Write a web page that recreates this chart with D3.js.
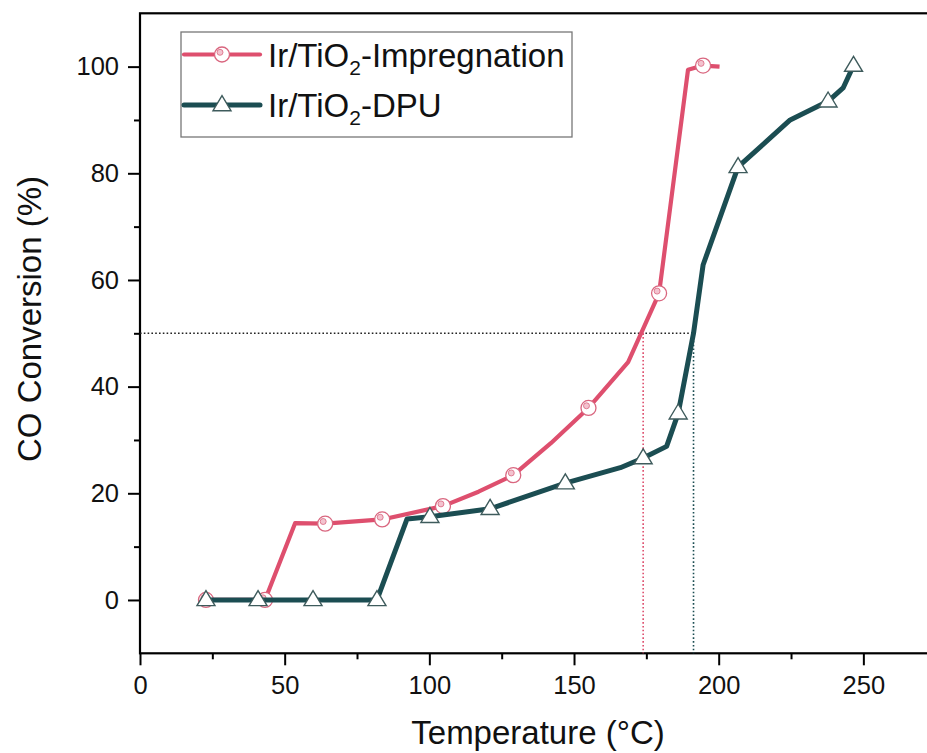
<!DOCTYPE html>
<html>
<head>
<meta charset="utf-8">
<script src="https://cdn.jsdelivr.net/npm/d3@7"></script>
<style>
  html, body { margin: 0; padding: 0; background: #fff; }
  svg { display: block; font-family: Arial, "Liberation Sans", sans-serif; }
</style>
</head>
<body>
<svg id="chart" width="927" height="753"></svg>
<script>
// Ir/TiO2 light-off curves: CO conversion vs temperature
const impTemp = [22.8, 43.2, 53.6, 64.0, 83.7, 104.7, 117.0, 129.0, 142.0, 155.0, 168.7, 179.4, 189.4, 194.6, 200.3];
const impConv = [0, 0, 14.4, 14.3, 15.1, 17.6, 20.3, 23.4, 29.4, 36.0, 44.6, 57.5, 99.4, 100.2, 100];
const impMarker = [1, 1, 0, 1, 1, 1, 0, 1, 0, 1, 0, 1, 0, 1, 0];

const dpuTemp = [22.8, 40.8, 59.8, 81.9, 92.3, 100.2, 121.0, 147.0, 166.0, 173.9, 182.0, 186.0, 191.3, 194.6, 206.7, 224.7, 237.8, 243.0, 246.6];
const dpuConv = [0, 0, 0, 0, 15.2, 15.6, 17.1, 21.9, 24.8, 26.6, 28.8, 35.0, 50.0, 62.8, 81.2, 90.0, 93.5, 96.0, 100.2];
const dpuMarker = [1, 1, 1, 1, 0, 1, 1, 1, 0, 1, 0, 1, 0, 0, 1, 0, 1, 0, 1];

// temperatures at 50 % conversion (T50) for each catalyst
const halfConv = 50;
const t50 = [173.9, 191.3];

const seriesNames = ["Impregnation", "DPU"];
const xMajorTicks = [0, 50, 100, 150, 200, 250];
const xMinorTicks = [25, 75, 125, 175, 225, 275];
const yMajorTicks = [0, 20, 40, 60, 80, 100];
const yMinorTicks = [10, 30, 50, 70, 90];

const pink = "#de4f6e";
const teal = "#1b4d52";

const svg = d3.select("#chart");
const x = d3.scaleLinear().domain([0, 275]).range([140, 935.7]);
const y = d3.scaleLinear().domain([-10, 110]).range([653.3, 13.3]);

// axes
const gx = svg.append("g").attr("transform", `translate(0,${y(-10)})`)
  .call(d3.axisBottom(x).tickValues(xMajorTicks).tickSize(12).tickSizeOuter(0).tickPadding(11));
const gxm = svg.append("g").attr("transform", `translate(0,${y(-10)})`)
  .call(d3.axisBottom(x).tickValues(xMinorTicks).tickSize(6).tickSizeOuter(0).tickFormat(""));
const gy = svg.append("g").attr("transform", `translate(${x(0)},0)`)
  .call(d3.axisLeft(y).tickValues(yMajorTicks).tickSize(12).tickSizeOuter(0).tickPadding(9));
const gym = svg.append("g").attr("transform", `translate(${x(0)},0)`)
  .call(d3.axisLeft(y).tickValues(yMinorTicks).tickSize(6).tickSizeOuter(0).tickFormat(""));
[gx, gxm, gy, gym].forEach(g => {
  g.select(".domain").remove();
  g.selectAll(".tick line").attr("stroke", "#000").attr("stroke-width", 2);
  g.selectAll(".tick text").attr("fill", "#111").style("font-size", "25.5px")
    .style("font-family", "Arial, 'Liberation Sans', sans-serif");
});

// frame
svg.append("rect")
  .attr("x", x(0)).attr("y", y(110))
  .attr("width", x(275) - x(0)).attr("height", y(-10) - y(110))
  .attr("fill", "none").attr("stroke", "#000").attr("stroke-width", 2.2);

// axis titles
svg.append("text").attr("x", 538).attr("y", 744).attr("text-anchor", "middle")
  .style("font-size", "33px").attr("fill", "#111").text("Temperature (°C)");
svg.append("text").attr("transform", "translate(41,319) rotate(-90)").attr("text-anchor", "middle")
  .style("font-size", "33px").attr("fill", "#111").text("CO Conversion (%)");

// T50 guide lines
svg.append("line")
  .attr("x1", x(0)).attr("x2", x(t50[1])).attr("y1", y(halfConv)).attr("y2", y(halfConv))
  .attr("stroke", "#222").attr("stroke-width", 1.6).attr("stroke-dasharray", "1.6 2.2");
[pink, teal].forEach((c, i) => {
  svg.append("line")
    .attr("x1", x(t50[i])).attr("x2", x(t50[i])).attr("y1", y(halfConv)).attr("y2", y(-10))
    .attr("stroke", c).attr("stroke-width", 1.6).attr("stroke-dasharray", "1.6 2.2");
});

const line = d3.line().x(d => x(d[0])).y(d => y(d[1]));

function circleMarker(g, cx, cy) {
  g.append("circle").attr("cx", cx).attr("cy", cy).attr("r", 7.5)
    .attr("fill", "#fff").attr("stroke", "#d9667f").attr("stroke-width", 1.3);
  g.append("circle").attr("cx", cx - 2).attr("cy", cy - 2.2).attr("r", 3)
    .attr("fill", "#f3c3cf").attr("stroke", "#d9667f").attr("stroke-width", 0.8);
}
function triangleMarker(g, cx, cy) {
  const h = 15, w = 18;
  g.append("path")
    .attr("d", `M${cx},${cy - h * 0.62}L${cx + w / 2},${cy + h * 0.38}L${cx - w / 2},${cy + h * 0.38}Z`)
    .attr("fill", "#fff").attr("stroke", "#3e5b5c").attr("stroke-width", 1.4).attr("stroke-linejoin", "miter");
}

// Impregnation series
const impData = impTemp.map((t, i) => [t, impConv[i]]);
svg.append("path").datum(impData).attr("d", line)
  .attr("fill", "none").attr("stroke", pink).attr("stroke-width", 4.2).attr("stroke-linejoin", "round");
const impG = svg.append("g");
impData.forEach((d, i) => { if (impMarker[i]) circleMarker(impG, x(d[0]), y(d[1])); });

// DPU series
const dpuData = dpuTemp.map((t, i) => [t, dpuConv[i]]);
svg.append("path").datum(dpuData).attr("d", line)
  .attr("fill", "none").attr("stroke", teal).attr("stroke-width", 5).attr("stroke-linejoin", "round");
const dpuG = svg.append("g");
dpuData.forEach((d, i) => { if (dpuMarker[i]) triangleMarker(dpuG, x(d[0]), y(d[1])); });

// legend
const lg = svg.append("g");
lg.append("rect").attr("x", 181).attr("y", 32).attr("width", 391).attr("height", 105)
  .attr("fill", "#fff").attr("stroke", "#777").attr("stroke-width", 1.3);
const rows = [
  { y: 54.5, color: pink, width: 4.2, marker: circleMarker },
  { y: 105, color: teal, width: 5, marker: triangleMarker }
];
rows.forEach((r, i) => {
  lg.append("line").attr("x1", 184).attr("x2", 260).attr("y1", r.y).attr("y2", r.y)
    .attr("stroke", r.color).attr("stroke-width", r.width).attr("stroke-linecap", "round");
  r.marker(lg, 222, r.y);
  const t = lg.append("text").attr("x", 268).attr("y", r.y + 12)
    .style("font-size", "33px").attr("fill", "#111");
  t.append("tspan").text("Ir/TiO");
  t.append("tspan").attr("dy", 8).style("font-size", "21px").text("2");
  t.append("tspan").attr("dy", -8).text("-" + seriesNames[i]);
});
</script>
</body>
</html>
